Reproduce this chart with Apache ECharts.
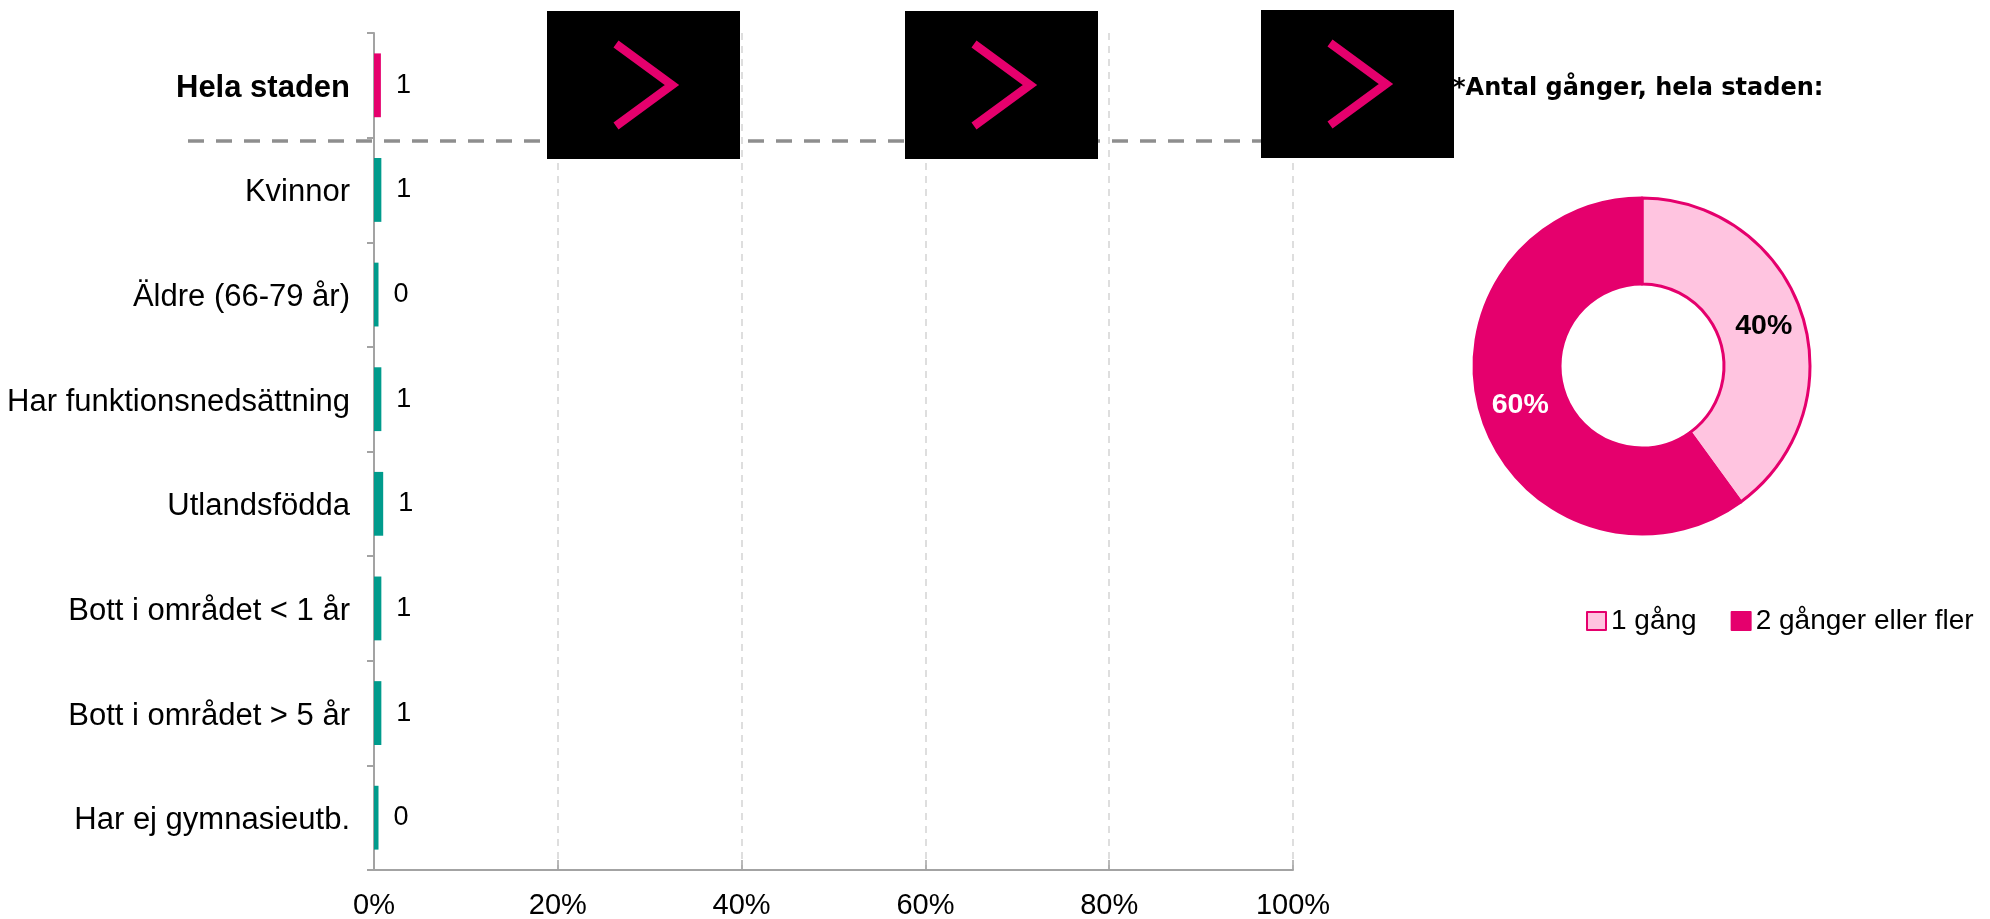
<!DOCTYPE html>
<html>
<head>
<meta charset="utf-8">
<script src="https://cdn.jsdelivr.net/npm/echarts@6/dist/echarts.min.js"></script>
<style>
html,body{margin:0;padding:0;background:#fff;}
#chart{width:1990px;height:919px;}
</style>
</head>
<body>
<div id="chart"></div>
<script>
// ---- data ----
var categories = ['Hela staden','Kvinnor','Äldre (66-79 år)','Har funktionsnedsättning','Utlandsfödda','Bott i området < 1 år','Bott i området > 5 år','Har ej gymnasieutb.'];
var shares = [0.75, 0.8, 0.49, 0.8, 1.0, 0.8, 0.8, 0.49];
var xTicks = [0, 20, 40, 60, 80, 100];
var donutNames = ['1 gång', '2 gånger eller fler'];
var donutValues = [40, 60];
var donutTitle = '*Antal gånger, hela staden:';

var PINK = '#e5006d';
var LIGHT = '#ffc4e0';
var TEAL = '#009b8c';
var AX = '#a3a3a3';
var FONT = '"Liberation Sans", Arial, sans-serif';

var chart = echarts.init(document.getElementById('chart'), null, {renderer:'canvas'});

function chevronBox(x, y) {
  return [
    {type:'rect', z:20, shape:{x:x, y:y, width:193, height:148}, style:{fill:'#000'}},
    {type:'polyline', z:21, shape:{points:[[x+69, y+33],[x+125, y+74],[x+69, y+115]]},
     style:{stroke:PINK, lineWidth:8.5, fill:null, lineJoin:'miter', lineCap:'butt'}}
  ];
}

var graphics = [
  {type:'line', z:10, shape:{x1:188, y1:141, x2:1300, y2:141},
   style:{stroke:'#8e8e8e', lineWidth:3.3, lineDash:[16,12]}}
].concat(chevronBox(547, 11), chevronBox(905, 11), chevronBox(1261, 10));

var option = {
  animation: false,
  title: {
    text: donutTitle,
    left: 1453, top: 77,
    padding: 0,
    textStyle: {fontFamily: '"DejaVu Sans", "Liberation Sans", sans-serif', fontSize: 24, fontWeight: 'bold', color: '#000'}
  },
  grid: {left: 374, top: 33, width: 919, height: 837, containLabel: false, outerBoundsMode: 'none'},
  xAxis: {
    type: 'value', min: xTicks[0], max: xTicks[xTicks.length-1], interval: xTicks[1]-xTicks[0],
    axisLine: {show: true, lineStyle: {color: AX, width: 2}},
    axisTick: {show: true, inside: true, length: 10, lineStyle: {color: AX, width: 1.5}},
    axisLabel: {formatter: '{value}%', fontFamily: FONT, fontSize: 29, color: '#000', margin: 21},
    splitLine: {show: true, lineStyle: {color: '#d4d4d4', width: 1.5, type: [7,6]}}
  },
  yAxis: {
    type: 'category', inverse: true, data: categories,
    axisLine: {show: true, lineStyle: {color: AX, width: 2}},
    axisTick: {show: true, inside: false, length: 7, lineStyle: {color: AX, width: 2}},
    axisLabel: {
      fontFamily: FONT, fontSize: 31, color: '#000', margin: 24, padding: [6, 0, 0, 0],
      formatter: function (v, i) { return i === 0 ? '{b|' + v + '}' : v; },
      rich: {b: {fontFamily: FONT, fontSize: 31, fontWeight: 'bold', color: '#000'}}
    },
    splitLine: {show: false}
  },
  legend: {
    show: true, data: donutNames, left: 1586, top: 607, itemWidth: 19, itemHeight: 18, itemGap: 34,
    icon: 'rect', padding: 0,
    textStyle: {fontFamily: FONT, fontSize: 28, color: '#000'}
  },
  series: [
    {
      type: 'bar', data: shares, barCategoryGap: '39%', z: 3,
      itemStyle: {color: function (p) { return p.dataIndex === 0 ? PINK : TEAL; }},
      label: {
        show: true, position: 'right', distance: 15,
        fontFamily: FONT, fontSize: 27, color: '#000',
        formatter: function (p) { return String(Math.round(p.value)); }
      },
      emphasis: {disabled: true}
    },
    {
      type: 'pie', center: [1642, 366], radius: [82, 168], startAngle: 90, clockwise: true,
      avoidLabelOverlap: false,
      itemStyle: {borderColor: PINK, borderWidth: 3},
      label: {show: true, position: 'inside', formatter: '{c}%', fontFamily: FONT, fontSize: 28.5, fontWeight: 'bold'},
      labelLine: {show: false},
      emphasis: {disabled: true},
      data: [
        {name: donutNames[0], value: donutValues[0], itemStyle: {color: LIGHT}, label: {color: '#000'}},
        {name: donutNames[1], value: donutValues[1], itemStyle: {color: PINK}, label: {color: '#fff'}}
      ]
    }
  ],
  graphic: graphics
};
chart.setOption(option);
</script>
</body>
</html>
